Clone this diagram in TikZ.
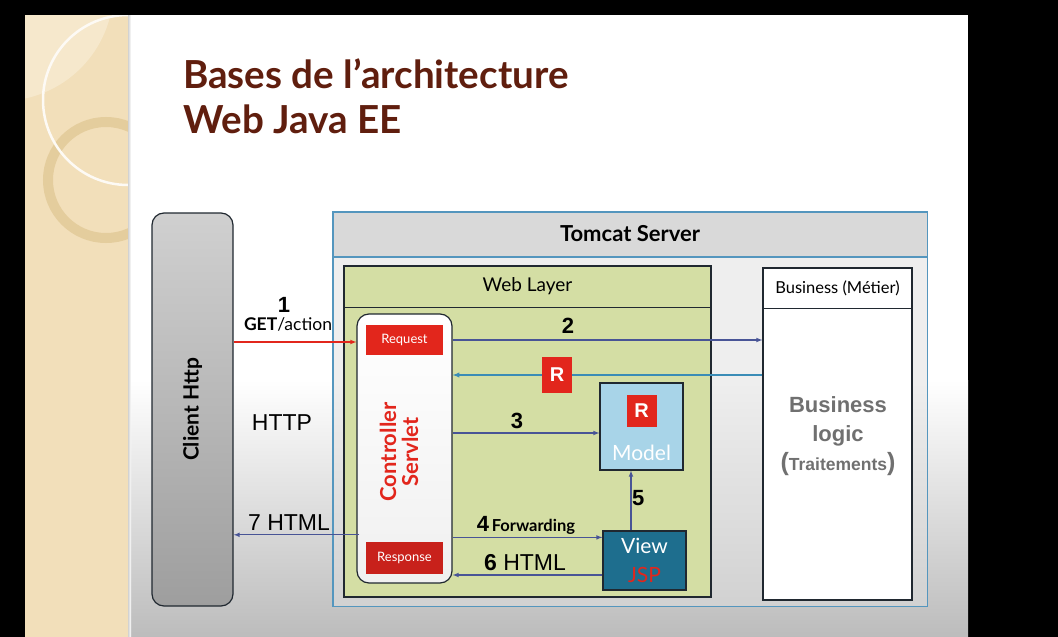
\documentclass[tikz,border=0pt]{standalone}
\usepackage{fontspec}
\setmainfont{Lato}
\newfontfamily\arialfont{Liberation Sans}
\usetikzlibrary{shapes,arrows,positioning,shadows}
\newcommand{\fsz}[1]{\fontsize{#1}{#1}\selectfont}
\definecolor{titlebrown}{RGB}{96,30,14}
\definecolor{bandbeige}{RGB}{242,223,186}
\definecolor{bandlight}{RGB}{246,232,204}
\definecolor{ringtan}{RGB}{226,202,152}
\definecolor{boxdark}{RGB}{32,40,48}
\definecolor{tomblue}{RGB}{84,150,190}
\definecolor{headgray}{RGB}{217,217,217}
\definecolor{webgreen}{RGB}{212,222,164}
\definecolor{tagred}{RGB}{226,38,28}
\definecolor{respred}{RGB}{200,33,27}
\definecolor{flowblue}{RGB}{72,84,150}
\definecolor{retblue}{RGB}{58,140,182}
\definecolor{modelblue}{RGB}{168,212,232}
\definecolor{viewteal}{RGB}{30,110,142}
\definecolor{bizgray}{RGB}{112,112,112}
\tikzset{
  layer/.style={rectangle, draw=boxdark, line width=1.2pt, inner sep=0pt},
  redtag/.style={rectangle, fill=tagred, text=white, inner sep=0pt, font=\arialfont\bfseries\fsz{20}},
  flow/.style={-latex, draw=flowblue, line width=1.1pt},
  num/.style={font=\arialfont\bfseries\fsz{22}, inner sep=1pt}
}

\begin{document}
\begin{tikzpicture}[x=1pt,y=-1pt]
  \useasboundingbox (0,0) rectangle (1058,637);
  \fill[black] (0,0) rectangle (1058,637);
  % slide background
  \fill[white] (25,15) rectangle (968,637);
  \shade[top color=white, bottom color={rgb,255:red,188;green,188;blue,188}] (128,380) rectangle (968,637);
  % left band
  \fill[bandbeige] (25,15) rectangle (128,637);
  \begin{scope}
    \clip (25,15) rectangle (128,637);
    \fill[bandlight] (1.5,-11) circle (112);
    \draw[ringtan, line width=10pt, opacity=0.85] (106,180) circle (58);
    \draw[white!85!bandbeige, line width=2.5pt] (128,100) circle (85);
  \end{scope}
  \shade[left color=gray!35, right color=white] (128,15) rectangle (131,637);
  % title
  \node[anchor=base west, inner sep=0pt, text=titlebrown, font=\bfseries\fsz{38.6}] (title1) at (183,88) {Bases de l’architecture};
  \node[anchor=base west, inner sep=0pt, text=titlebrown, font=\bfseries\fsz{38.6}] (title2) at (183,133) {Web Java EE};

  % client
  \node[layer, rounded corners=12pt, top color={rgb,255:red,208;green,208;blue,208}, bottom color={rgb,255:red,158;green,158;blue,158},
        minimum width=81pt, minimum height=393pt] (client) at (192.5,409.5) {};
  \node[rotate=90, font=\bfseries\fsz{21}] (clientlbl) at (client.center) {Client Http};

  % tomcat server
  \node[rectangle, fill=gray!25, fill opacity=0.5, minimum width=594pt, minimum height=394pt] (tomcat) at (630,409) {};
  \fill[headgray] (tomcat.north west) rectangle ([yshift=-45pt]tomcat.north east);
  \draw[tomblue, line width=1.4pt] (tomcat.north west) rectangle (tomcat.south east);
  \draw[tomblue, line width=1.4pt] ([yshift=-45pt]tomcat.north west) -- ([yshift=-45pt]tomcat.north east);
  \node[font=\bfseries\fsz{22}] (tomcatlbl) at ([yshift=-22pt]tomcat.north) {Tomcat Server};

  % web layer
  \node[layer, fill=webgreen, minimum width=367pt, minimum height=331pt] (web) at (527.5,431.5) {};
  \draw[boxdark, line width=1.2pt] ([yshift=-42pt]web.north west) -- ([yshift=-42pt]web.north east);
  \node[font=\fsz{19}] (weblbl) at ([yshift=-21pt]web.north) {Web Layer};

  % business
  \node[layer, fill=white, minimum width=149pt, minimum height=332pt] (biz) at (837.5,434) {};
  \draw[boxdark, line width=1.2pt] ([yshift=-41pt]biz.north west) -- ([yshift=-41pt]biz.north east);
  \node[font=\fsz{16.5}] (bizlbl) at ([yshift=-21pt]biz.north) {Business (Métier)};
  \node[align=center, text=bizgray, font=\arialfont\bfseries\fontsize{22}{29}\selectfont, inner sep=0pt] (bizlogic) at (838,436)
    {Business\\logic\\{\fontsize{25}{29}\selectfont(}{\fontsize{17.5}{29}\selectfont Traitements}{\fontsize{25}{29}\selectfont)}};

  % controller servlet
  \node[layer, rounded corners=12pt, top color=white, bottom color=gray!12, minimum width=95pt, minimum height=269pt] (ctrl) at (404.5,448.5) {};
  \node[rotate=90, align=center, text=tagred, font=\bfseries\fontsize{22}{22}\selectfont] (ctrllbl) at (399,452) {Controller\\Servlet};
  \node[rectangle, fill=tagred, text=white, font=\fsz{13}, minimum width=77pt, minimum height=30pt] (req) at (404.5,340) {Request};
  \node[rectangle, fill=respred, text=white, font=\fsz{13}, minimum width=77pt, minimum height=32pt] (resp) at (404.5,558) {Response};

  % model and view
  \node[layer, fill=modelblue, minimum width=83pt, minimum height=87pt] (model) at (641.5,426.5) {};
  \node[redtag, minimum width=30pt, minimum height=32pt] (rmodel) at ([yshift=16pt]model.center) {R};
  \node[text=white, font=\fsz{21}] (modellbl) at ([yshift=-26pt]model.center) {Model};
  \node[layer, fill=viewteal, text=white, align=center, font=\fontsize{21}{29}\selectfont, minimum width=83pt, minimum height=59pt] (view) at (644.5,560.5)
    {View\\{\color{tagred}JSP}};

  % connectors
  \coordinate (v3) at ([yshift=-6.5pt]model.west);
  \coordinate (v4) at ([yshift=-7pt]view.north west);
  \coordinate (v6) at ([yshift=-14.5pt]view.west);
  \coordinate (v5) at ([xshift=-13.5pt]view.north);
  \coordinate (c7) at ([yshift=7pt]resp.north -| ctrl.west);
  \coordinate (rr) at (biz.west |- 0,375);
  \draw[-latex, draw=tagred, line width=1.1pt] (client.east |- 0,342) -- (ctrl.west |- 0,342);
  \draw[flow] (ctrl.east |- req) -- (biz.west |- req);
  \draw[-latex, draw=retblue, line width=1.3pt] (rr) -- (ctrl.east |- rr);
  \draw[flow] (ctrl.east |- v3) -- (v3);
  \draw[flow] (ctrl.east |- v4) -- (v4);
  \draw[flow] (v5) -- (v5 |- model.south);
  \draw[flow] (v6) -- (ctrl.east |- v6);
  \draw[flow] ([xshift=3pt]c7) -- (client.east |- c7);
  \node[redtag, minimum width=30pt, minimum height=36pt] (rret) at (557,375) {R};

  % labels
  \node[num] (n1) at (284,305) {1};
  \node[font=\fsz{17.5}, inner sep=0pt] (getlbl) at (288,324) {\textbf{GET}/action};
  \node[font=\arialfont\fsz{23}] (httplbl) at (282,423) {HTTP};
  \node[font=\arialfont\fsz{23}, inner sep=0pt] (n7) at (289,523) {7 HTML};
  \node[num] (n2) at (568,326) {2};
  \node[num] (n3) at (517,421) {3};
  \node[inner sep=0pt] (n4) at (526,525) {{\arialfont\bfseries\fsz{22}4} {\bfseries\fsz{16.5}Forwarding}};
  \node[num, anchor=west] (n5) at (v5 |- 0,498) {5};
  \node[font=\arialfont\fsz{23}, inner sep=0pt] (n6) at (525,563) {\textbf{6} HTML};
\end{tikzpicture}
\end{document}
